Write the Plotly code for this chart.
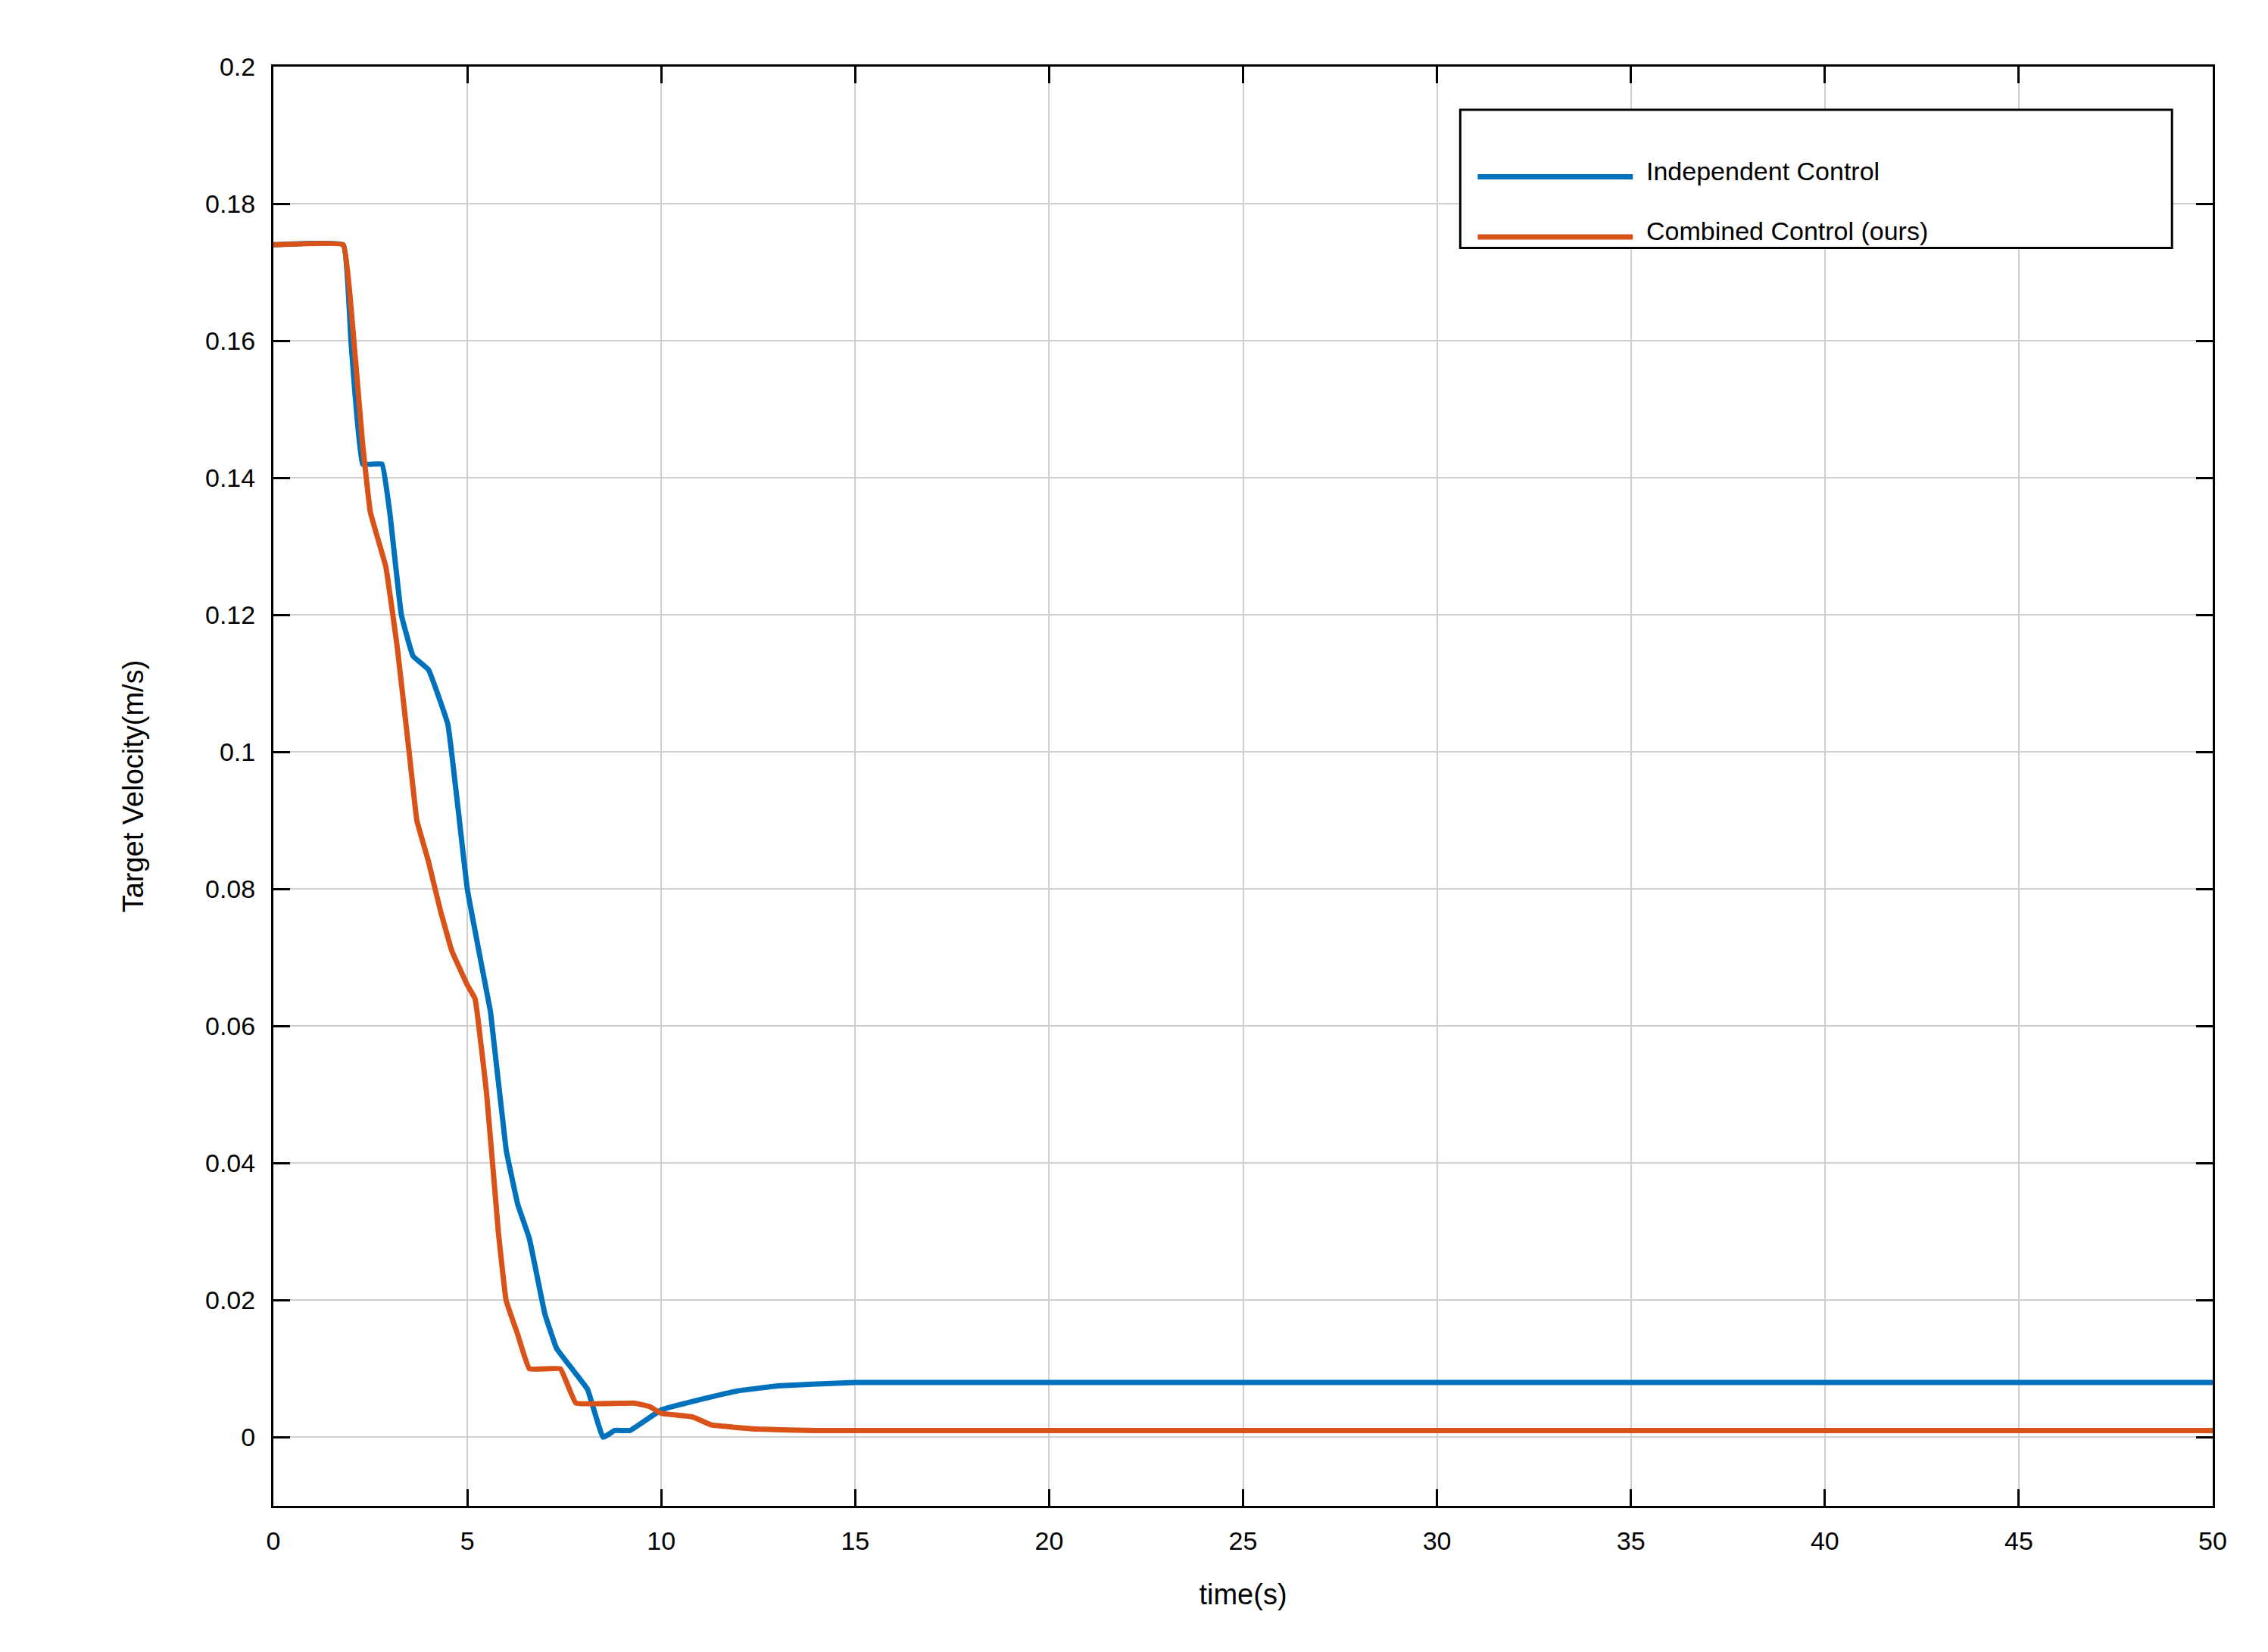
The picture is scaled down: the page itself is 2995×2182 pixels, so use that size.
import plotly.graph_objects as go

t_ind = [0, 1.8, 2.0, 2.3, 2.8, 3.0, 3.3, 3.6, 4.0, 4.5, 5.0, 5.5, 5.6, 6.0, 6.3, 6.6, 7.0, 7.3, 7.7, 8.1, 8.5, 8.8, 9.2, 10, 11, 12, 13, 15, 50]
v_ind = [0.174, 0.174, 0.16, 0.142, 0.142, 0.135, 0.12, 0.114, 0.112, 0.104, 0.080, 0.065, 0.062, 0.042, 0.034, 0.029, 0.018, 0.013, 0.010, 0.007, 0.0, 0.001, 0.001, 0.004, 0.0055, 0.0068, 0.0075, 0.008, 0.008]

t_comb = [0, 1.8, 2.0, 2.3, 2.5, 2.9, 3.2, 3.5, 3.7, 4.0, 4.3, 4.6, 5.0, 5.2, 5.5, 5.8, 6.0, 6.3, 6.6, 7.4, 7.8, 9.3, 9.7, 10.0, 10.8, 11.3, 12.5, 14, 50]
v_comb = [0.174, 0.174, 0.165, 0.145, 0.135, 0.127, 0.115, 0.100, 0.090, 0.084, 0.077, 0.071, 0.066, 0.064, 0.050, 0.030, 0.020, 0.015, 0.010, 0.010, 0.005, 0.005, 0.0045, 0.0035, 0.003, 0.0018, 0.0012, 0.001, 0.001]

x_ticks = list(range(0, 51, 5))
y_ticks = [0, 0.02, 0.04, 0.06, 0.08, 0.1, 0.12, 0.14, 0.16, 0.18, 0.2]
y_labels = ["0", "0.02", "0.04", "0.06", "0.08", "0.1", "0.12", "0.14", "0.16", "0.18", "0.2"]
names = ["Independent Control", "Combined Control (ours)"]
colors = ["#0072BD", "#D95319"]
FONT = "Liberation Sans, Arial"

fig = go.Figure()
fig.add_trace(go.Scatter(x=t_ind, y=v_ind, mode="lines", name=names[0], showlegend=False,
                         line=dict(color=colors[0], width=7, shape="spline", smoothing=0.25)))
fig.add_trace(go.Scatter(x=t_comb, y=v_comb, mode="lines", name=names[1], showlegend=False,
                         line=dict(color=colors[1], width=7, shape="spline", smoothing=0.25)))

axis_common = dict(showline=True, linecolor="black", linewidth=3, mirror="ticks", ticks="inside",
                   ticklen=22, tickwidth=3, tickcolor="black", showgrid=True,
                   gridcolor="#d0d0d0", gridwidth=2, zeroline=False, ticklabelstandoff=14,
                   tickfont=dict(family=FONT, size=34, color="black"))
fig.update_xaxes(range=[0, 50], tickvals=x_ticks,
                 title=dict(text="time(s)", font=dict(size=38, family=FONT, color="black"), standoff=40), **axis_common)
fig.update_yaxes(range=[-0.01, 0.2], tickvals=y_ticks, ticktext=y_labels,
                 title=dict(text="Target Velocity(m/s)", font=dict(size=38, family=FONT, color="black"), standoff=70), **axis_common)

# manual MATLAB-style legend
fig.add_shape(type="rect", xref="paper", yref="paper", x0=0.612, x1=0.979, y0=0.874, y1=0.970,
              line=dict(color="black", width=3), fillcolor="white", layer="above")
for i, ly in enumerate([0.9235, 0.8816]):
    fig.add_shape(type="line", xref="paper", yref="paper", x0=0.621, x1=0.701, y0=ly, y1=ly,
                  line=dict(color=colors[i], width=7), layer="above")
    fig.add_annotation(xref="paper", yref="paper", x=0.707, y=ly + 0.004, text=names[i], showarrow=False,
                       xanchor="left", yanchor="middle", font=dict(family=FONT, size=34, color="black"))

fig.update_layout(
    width=2995, height=2182, paper_bgcolor="white", plot_bgcolor="white",
    margin=dict(l=353, r=81, t=80, b=201),
    showlegend=False,
)
fig.write_html("out.html")
